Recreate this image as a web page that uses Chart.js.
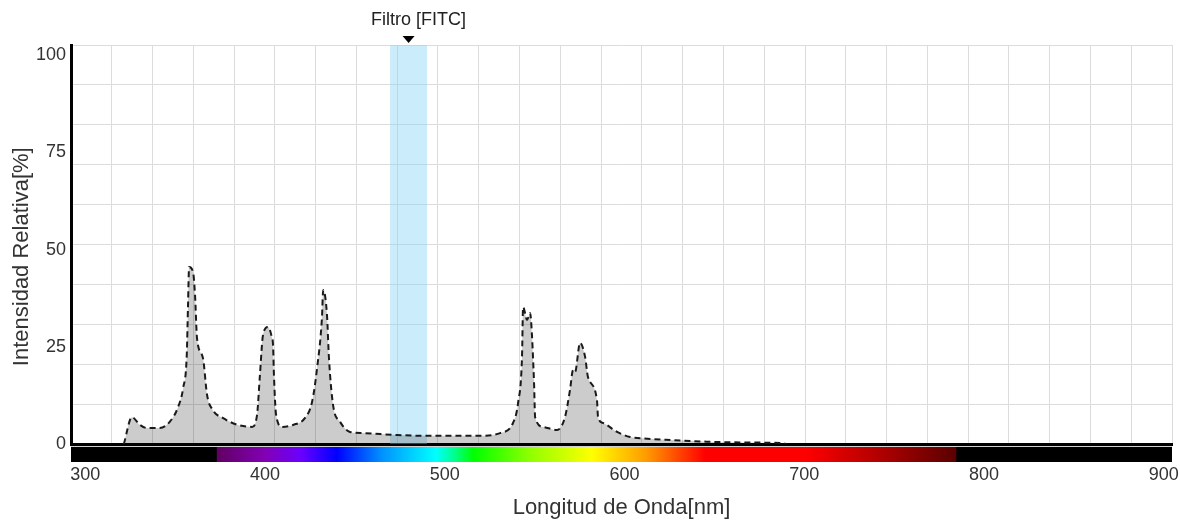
<!DOCTYPE html>
<html>
<head>
<meta charset="utf-8">
<title>Espectro - Filtro FITC</title>
<script src="https://cdn.jsdelivr.net/npm/chart.js@4.4.1/dist/chart.umd.min.js"></script>
<style>
  html, body { margin: 0; padding: 0; background: #fff; }
  #wrap { position: relative; width: 1180px; height: 523px; }
</style>
</head>
<body>
<div id="wrap"><canvas id="spectrum-chart"></canvas></div>
<script>
// lamp spectrum
const wavelengthNm = [
  321.5, 326.0, 330.5, 334.5, 341.5, 347.0, 351.5, 354.5, 356.5, 357.2,
  357.8, 360.0, 361.1, 362.2, 365.5, 367.8, 371.0, 376.5, 385.0, 392.8,
  395.6, 397.2, 398.9, 401.7, 403.8, 404.5, 405.0, 406.2, 409.5, 415.6,
  422.3, 426.2, 429.0, 431.7, 432.4, 434.5, 435.6, 437.9, 441.8, 447.3,
  454.5, 473.5, 491.8, 519.6, 530.8, 538.0, 540.8, 543.0, 543.6, 545.8,
  547.5, 548.6, 549.1, 549.7, 550.3, 554.7, 562.5, 566.9, 569.7, 571.4,
  572.5, 575.3, 578.1, 579.7, 584.7, 585.3, 588.1, 595.9, 603.1, 608.7,
  627.0, 646.0, 664.3, 688.0, 690.0
];
const intensityPct = [
  0.0, 6.9, 4.9, 4.1, 4.1, 5.7, 9.3, 14.4, 22.9, 35.7,
  45.5, 44.2, 38.3, 27.2, 22.1, 12.6, 8.7, 6.7, 4.9, 4.4,
  7.5, 17.7, 28.0, 30.1, 27.5, 25.4, 17.7, 7.5, 4.4, 4.9,
  6.7, 10.8, 19.5, 32.4, 39.6, 33.2, 22.1, 10.0, 5.7, 3.1,
  2.8, 2.3, 2.1, 2.1, 2.8, 5.4, 10.5, 22.4, 35.2, 31.9,
  33.7, 27.5, 22.4, 15.7, 6.9, 4.4, 3.6, 6.9, 13.9, 19.0,
  18.5, 26.0, 22.4, 17.2, 11.3, 6.9, 5.4, 3.1, 1.8, 1.5,
  1.0, 0.6, 0.4, 0.2, 0.0
];

const xTickValues = [300, 400, 500, 600, 700, 800, 900];
const yTickValues = [0, 25, 50, 75, 100];
const xRange = [292.1, 904.6];
const yRange = [0, 102.6];
const gridCols = 27;
const gridRows = 10;

const filterName = 'Filtro [FITC]';
const filterRangeNm = [469.6, 490.2];

// colour bar under the axis: [nm, colour]
const spectrumStops = [
  [292, '#000000'], [373, '#000000'], [373.2, '#610061'], [400, '#8300b5'],
  [420, '#6a00ff'], [440, '#0000ff'], [465, '#0092ff'], [495, '#00ffff'],
  [505, '#00ff92'], [516, '#00ff00'], [548, '#92ff00'], [582, '#ffff00'],
  [612, '#ff9b00'], [645, '#ff0000'], [700, '#ff0000'], [740, '#b50000'],
  [784.5, '#5a0000'], [784.8, '#000000'], [905, '#000000']
];

const FONT = '"Liberation Sans", Arial, sans-serif';
Chart.defaults.font.family = FONT;

const spectrumPoints = wavelengthNm.map((nm, i) => ({ x: nm, y: intensityPct[i] }));
const filterPoints = filterRangeNm.map(nm => ({ x: nm, y: yRange[1] }));

const evenTicks = (min, max, n) => {
  const out = [];
  for (let k = 1; k <= n; k++) out.push({ value: min + (max - min) * k / n });
  return out;
};

// keep the plot area fixed, no extra room for edge labels
const noEdgePadding = s => {
  s.paddingLeft = 0; s.paddingRight = 0; s.paddingTop = 0; s.paddingBottom = 0;
};

const spectrumBar = {
  id: 'spectrumBar',
  afterDraw(chart) {
    const { ctx, chartArea, scales: { x } } = chart;
    const w = chartArea.right - chartArea.left;
    const grad = ctx.createLinearGradient(chartArea.left, 0, chartArea.right, 0);
    spectrumStops.forEach(([nm, c]) => {
      const p = (x.getPixelForValue(nm) - chartArea.left) / w;
      grad.addColorStop(Math.min(1, Math.max(0, p)), c);
    });
    ctx.save();
    ctx.fillStyle = '#d0d0d0';
    ctx.fillRect(chartArea.left, chartArea.bottom + 2, w, 1);
    ctx.fillStyle = grad;
    ctx.fillRect(chartArea.left, chartArea.bottom + 3, w, 15);
    ctx.restore();
  }
};

const filterMark = {
  id: 'filterMark',
  afterDraw(chart) {
    const { ctx, chartArea, scales: { x } } = chart;
    const cx = x.getPixelForValue((filterRangeNm[0] + filterRangeNm[1]) / 2);
    ctx.save();
    ctx.fillStyle = '#000';
    ctx.beginPath();
    ctx.moveTo(cx - 6, chartArea.top - 9);
    ctx.lineTo(cx + 6, chartArea.top - 9);
    ctx.lineTo(cx, chartArea.top - 2);
    ctx.closePath();
    ctx.fill();
    ctx.fillStyle = '#222';
    ctx.font = '18px ' + FONT;
    ctx.textAlign = 'center';
    ctx.textBaseline = 'middle';
    ctx.fillText(filterName, cx + 10, 20);
    ctx.restore();
  }
};

new Chart(document.getElementById('spectrum-chart'), {
  type: 'line',
  data: {
    datasets: [
      {
        label: 'Intensidad',
        data: spectrumPoints,
        borderColor: '#1a1a1a',
        borderWidth: 2,
        borderDash: [6, 4],
        backgroundColor: 'rgba(0, 0, 0, 0.2)',
        fill: 'origin',
        pointRadius: 0,
        cubicInterpolationMode: 'monotone',
        order: 1
      },
      {
        label: filterName,
        data: filterPoints,
        borderWidth: 0,
        borderColor: 'rgba(0,0,0,0)',
        backgroundColor: 'rgba(130, 212, 245, 0.42)',
        fill: 'origin',
        pointRadius: 0,
        order: 2
      }
    ]
  },
  options: {
    responsive: true,
    maintainAspectRatio: false,
    animation: false,
    layout: { padding: { top: 45, right: 8, left: 0, bottom: 0 } },
    plugins: {
      legend: { display: false },
      tooltip: { enabled: false }
    },
    scales: {
      x: {
        type: 'linear',
        min: xRange[0],
        max: xRange[1],
        afterBuildTicks: s => { s.ticks = xTickValues.map(v => ({ value: v })); },
        afterFit: s => { s.height = 79; noEdgePadding(s); },
        grid: { display: false, drawTicks: false },
        border: { display: true, color: '#000', width: 3 },
        ticks: { padding: 20, color: '#333', font: { size: 18 }, maxRotation: 0 },
        title: {
          display: true,
          text: 'Longitud de Onda[nm]',
          color: '#333',
          font: { size: 22 },
          padding: { top: 0, bottom: 2 }
        }
      },
      xGrid: {
        type: 'linear',
        position: 'top',
        min: xRange[0],
        max: xRange[1],
        afterBuildTicks: s => { s.ticks = evenTicks(xRange[0], xRange[1], gridCols); },
        afterFit: s => { s.height = 0; noEdgePadding(s); },
        grid: { color: '#dcdcdc', drawTicks: false },
        border: { display: false },
        ticks: { display: false }
      },
      y: {
        min: yRange[0],
        max: yRange[1],
        afterBuildTicks: s => { s.ticks = yTickValues.map(v => ({ value: v })); },
        afterFit: s => { s.width = 71; noEdgePadding(s); },
        grid: { display: false, drawTicks: false },
        border: { display: true, color: '#000', width: 3 },
        ticks: { padding: 5, color: '#333', font: { size: 18 } },
        title: {
          display: true,
          text: 'Intensidad Relativa[%]    ',
          color: '#333',
          font: { size: 22 },
          padding: { top: 9, bottom: 0 }
        }
      },
      yGrid: {
        position: 'right',
        min: yRange[0],
        max: yRange[1],
        afterBuildTicks: s => { s.ticks = evenTicks(yRange[0], yRange[1], gridRows); },
        afterFit: s => { s.width = 0; noEdgePadding(s); },
        grid: { color: '#dcdcdc', drawTicks: false },
        border: { display: false },
        ticks: { display: false }
      }
    }
  },
  plugins: [spectrumBar, filterMark]
});
</script>
</body>
</html>
